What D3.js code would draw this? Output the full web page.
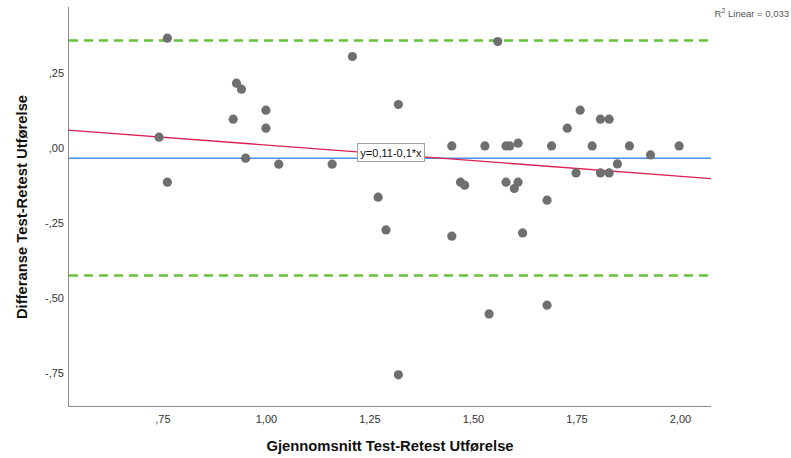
<!DOCTYPE html>
<head>
  <meta charset="utf-8">
  <style>
  body {
    margin: 0;
    background: #fff;
  }

  .chart {
    display: block;
    font-family: "Liberation Sans", Arial, sans-serif;
  }

  .axis path {
    stroke: #8c8c8c;
  }

  .axis line {
    display: none;
  }

  .axis text {
    font-size: 11px;
    fill: #333;
  }

  .title {
    font-size: 14.8px;
    font-weight: bold;
    fill: #111;
  }
</style>
</head>
<svg class="chart" width="791" height="458"></svg>

<script src="https://cdn.jsdelivr.net/npm/d3@7"></script>
<script>
// mean of test and retest (x) against their difference (y)
var meanScore = [
  0.762, 0.929, 0.941, 1.000, 0.921, 1.000, 0.742, 0.951, 1.031, 0.762,
  1.209, 1.320, 1.160, 1.271, 1.290, 1.320,
  1.560, 1.449, 1.529, 1.580, 1.589, 1.609, 1.690, 1.728,
  1.470, 1.480, 1.580, 1.609, 1.600, 1.679, 1.449, 1.620, 1.539, 1.679,
  1.759, 1.808, 1.829, 1.788, 1.878, 1.998, 1.929, 1.849, 1.749, 1.808, 1.829
];
var diffScore = [
  0.359, 0.209, 0.189, 0.119, 0.089, 0.059, 0.029, -0.041, -0.061, -0.121,
  0.298, 0.138, -0.061, -0.171, -0.280, -0.763,
  0.348, 0.000, 0.000, 0.000, 0.000, 0.009, 0.000, 0.059,
  -0.121, -0.131, -0.121, -0.121, -0.142, -0.181, -0.301, -0.290, -0.560, -0.531,
  0.119, 0.089, 0.089, 0.000, 0.000, 0.000, -0.030, -0.060, -0.090, -0.090, -0.090
];

var xTicks = [0.75, 1.00, 1.25, 1.50, 1.75, 2.00];
var yTicks = [0.25, 0.00, -0.25, -0.50, -0.75];

var meanDiff = -0.041;
var upperLimit = 0.351;
var lowerLimit = -0.432;

var fitIntercept = 0.107,
  fitSlope = -0.104;
var fitLabel = "y=0,11-0,1*x";
var r2Label = " Linear = 0,033";

var svg = d3.select("svg"),
  margin = { top: 7, right: 80, bottom: 52, left: 68 },
  width = svg.attr("width") - margin.left - margin.right,
  height = svg.attr("height") - margin.top - margin.bottom,
  g = svg
    .append("g")
    .attr("transform", "translate(" + margin.left + "," + margin.top + ")");

var x = d3.scaleLinear().domain([0.522, 2.075]).range([0, width]),
  y = d3.scaleLinear().domain([-0.867, 0.463]).range([height, 0]);

// SPSS style: comma decimal, no leading zero
var fmt = function(d) {
  var s = Math.abs(d).toFixed(2).replace(".", ",").replace(/^0,/, ",");
  return (d < 0 ? "-" : "") + s;
};

g.append("g")
  .attr("class", "axis axis--x")
  .attr("transform", "translate(0," + height + ")")
  .call(d3.axisBottom(x).tickValues(xTicks).tickFormat(fmt).tickSize(0).tickPadding(9))
  .call(function(a) { a.select(".domain").attr("d", "M0,0.5H" + width); });

g.append("g")
  .attr("class", "axis axis--y")
  .call(d3.axisLeft(y).tickValues(yTicks).tickFormat(fmt).tickSize(0).tickPadding(4))
  .call(function(a) {
    a.select(".domain").attr("d", "M0.5,0V" + height);
    a.selectAll(".tick text").attr("dy", "0.5em");
  });

// limits of agreement
g.selectAll(".limit")
  .data([upperLimit, lowerLimit])
  .enter()
  .append("line")
  .attr("class", "limit")
  .attr("x1", 1)
  .attr("x2", width)
  .attr("y1", function(d) { return y(d); })
  .attr("y2", function(d) { return y(d); })
  .style("stroke", "#64c23c")
  .style("stroke-width", 2.5)
  .style("stroke-dasharray", "9,6");

g.append("line")
  .attr("x1", 1)
  .attr("x2", width)
  .attr("y1", y(meanDiff))
  .attr("y2", y(meanDiff))
  .style("stroke", "#4a90e2")
  .style("stroke-width", 1.6);

var x0 = x.domain()[0],
  x1 = x.domain()[1];
g.append("line")
  .attr("x1", x(x0))
  .attr("x2", x(x1))
  .attr("y1", y(fitIntercept + fitSlope * x0))
  .attr("y2", y(fitIntercept + fitSlope * x1))
  .style("stroke", "#dc2050")
  .style("stroke-width", 1.3);

g.selectAll(".dot")
  .data(meanScore.map(function(d, i) { return { m: d, diff: diffScore[i] }; }))
  .enter()
  .append("circle")
  .attr("class", "dot")
  .attr("cx", function(d) { return x(d.m); })
  .attr("cy", function(d) { return y(d.diff); })
  .attr("r", 4.6)
  .style("fill", "#6f6f6f");

// fit line label
var lbl = svg.append("g").attr("transform", "translate(357,143)");
lbl.append("rect")
  .attr("x", 0.5)
  .attr("y", 0.5)
  .attr("width", 67)
  .attr("height", 18)
  .style("fill", "#fff")
  .style("stroke", "#a0a0a0");
lbl.append("text")
  .attr("x", 34)
  .attr("y", 13.5)
  .attr("text-anchor", "middle")
  .style("font-size", "11px")
  .style("fill", "#111")
  .text(fitLabel);

var r2 = svg.append("text")
  .attr("x", 789)
  .attr("y", 17)
  .attr("text-anchor", "end")
  .style("font-size", "9.5px")
  .style("fill", "#555");
r2.append("tspan").text("R");
r2.append("tspan").attr("dy", -4).style("font-size", "7px").text("2");
r2.append("tspan").attr("dy", 4).text(r2Label);

svg.append("text")
  .attr("class", "title")
  .attr("x", 390)
  .attr("y", 451)
  .attr("text-anchor", "middle")
  .text("Gjennomsnitt Test-Retest Utførelse");

svg.append("text")
  .attr("class", "title")
  .attr("transform", "translate(27,207) rotate(-90)")
  .attr("text-anchor", "middle")
  .text("Differanse Test-Retest Utførelse");
</script>
